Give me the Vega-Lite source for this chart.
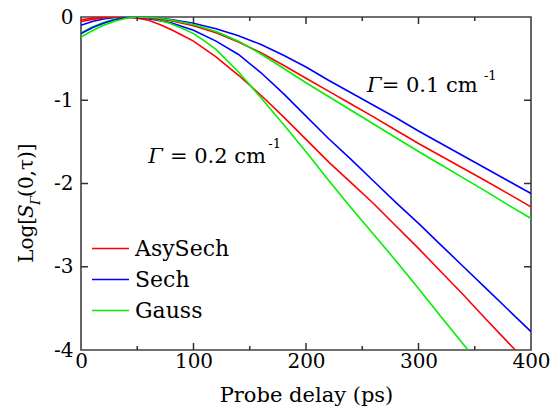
{
  "$schema": "https://vega.github.io/schema/vega-lite/v6.json",
  "width": 450,
  "height": 333,
  "autosize": {"type": "none"},
  "padding": {"left": 81, "top": 17, "right": 20, "bottom": 64},
  "config": {
    "view": {"stroke": "#404040", "strokeWidth": 1.6},
    "font": "DejaVu Serif",
    "text": {"font": "DejaVu Serif", "color": "#000000"},
    "rule": {"color": "#303030", "strokeWidth": 1.5},
    "axis": {"labelFont": "DejaVu Serif", "titleFont": "DejaVu Serif", "grid": false, "labelColor": "#000000", "titleColor": "#000000", "domain": false, "ticks": false, "labelOverlap": false, "labelFlush": false},
    "legend": {"labelFont": "DejaVu Serif"}
  },
  "datasets": {
    "curves": [
      {"delay": 0, "logS": -0.035, "pulse": "AsySech", "gamma": "0.2"},
      {"delay": 10, "logS": -0.015, "pulse": "AsySech", "gamma": "0.2"},
      {"delay": 20, "logS": -0.004, "pulse": "AsySech", "gamma": "0.2"},
      {"delay": 30, "logS": 0, "pulse": "AsySech", "gamma": "0.2"},
      {"delay": 40, "logS": -0.002, "pulse": "AsySech", "gamma": "0.2"},
      {"delay": 50, "logS": -0.015, "pulse": "AsySech", "gamma": "0.2"},
      {"delay": 60, "logS": -0.04, "pulse": "AsySech", "gamma": "0.2"},
      {"delay": 70, "logS": -0.09, "pulse": "AsySech", "gamma": "0.2"},
      {"delay": 80, "logS": -0.15, "pulse": "AsySech", "gamma": "0.2"},
      {"delay": 90, "logS": -0.22, "pulse": "AsySech", "gamma": "0.2"},
      {"delay": 100, "logS": -0.29, "pulse": "AsySech", "gamma": "0.2"},
      {"delay": 120, "logS": -0.48, "pulse": "AsySech", "gamma": "0.2"},
      {"delay": 140, "logS": -0.7, "pulse": "AsySech", "gamma": "0.2"},
      {"delay": 160, "logS": -0.94, "pulse": "AsySech", "gamma": "0.2"},
      {"delay": 180, "logS": -1.2, "pulse": "AsySech", "gamma": "0.2"},
      {"delay": 200, "logS": -1.47, "pulse": "AsySech", "gamma": "0.2"},
      {"delay": 220, "logS": -1.74, "pulse": "AsySech", "gamma": "0.2"},
      {"delay": 240, "logS": -1.99, "pulse": "AsySech", "gamma": "0.2"},
      {"delay": 260, "logS": -2.24, "pulse": "AsySech", "gamma": "0.2"},
      {"delay": 280, "logS": -2.51, "pulse": "AsySech", "gamma": "0.2"},
      {"delay": 300, "logS": -2.78, "pulse": "AsySech", "gamma": "0.2"},
      {"delay": 320, "logS": -3.06, "pulse": "AsySech", "gamma": "0.2"},
      {"delay": 340, "logS": -3.34, "pulse": "AsySech", "gamma": "0.2"},
      {"delay": 360, "logS": -3.63, "pulse": "AsySech", "gamma": "0.2"},
      {"delay": 386, "logS": -4.0, "pulse": "AsySech", "gamma": "0.2"},

      {"delay": 0, "logS": -0.1, "pulse": "Sech", "gamma": "0.2"},
      {"delay": 10, "logS": -0.055, "pulse": "Sech", "gamma": "0.2"},
      {"delay": 20, "logS": -0.025, "pulse": "Sech", "gamma": "0.2"},
      {"delay": 30, "logS": -0.006, "pulse": "Sech", "gamma": "0.2"},
      {"delay": 40, "logS": 0, "pulse": "Sech", "gamma": "0.2"},
      {"delay": 50, "logS": -0.005, "pulse": "Sech", "gamma": "0.2"},
      {"delay": 60, "logS": -0.02, "pulse": "Sech", "gamma": "0.2"},
      {"delay": 80, "logS": -0.07, "pulse": "Sech", "gamma": "0.2"},
      {"delay": 100, "logS": -0.16, "pulse": "Sech", "gamma": "0.2"},
      {"delay": 120, "logS": -0.29, "pulse": "Sech", "gamma": "0.2"},
      {"delay": 140, "logS": -0.45, "pulse": "Sech", "gamma": "0.2"},
      {"delay": 160, "logS": -0.67, "pulse": "Sech", "gamma": "0.2"},
      {"delay": 180, "logS": -0.92, "pulse": "Sech", "gamma": "0.2"},
      {"delay": 200, "logS": -1.19, "pulse": "Sech", "gamma": "0.2"},
      {"delay": 220, "logS": -1.46, "pulse": "Sech", "gamma": "0.2"},
      {"delay": 240, "logS": -1.71, "pulse": "Sech", "gamma": "0.2"},
      {"delay": 260, "logS": -1.97, "pulse": "Sech", "gamma": "0.2"},
      {"delay": 280, "logS": -2.23, "pulse": "Sech", "gamma": "0.2"},
      {"delay": 300, "logS": -2.48, "pulse": "Sech", "gamma": "0.2"},
      {"delay": 320, "logS": -2.74, "pulse": "Sech", "gamma": "0.2"},
      {"delay": 340, "logS": -3.0, "pulse": "Sech", "gamma": "0.2"},
      {"delay": 360, "logS": -3.26, "pulse": "Sech", "gamma": "0.2"},
      {"delay": 380, "logS": -3.52, "pulse": "Sech", "gamma": "0.2"},
      {"delay": 400, "logS": -3.78, "pulse": "Sech", "gamma": "0.2"},

      {"delay": 0, "logS": -0.19, "pulse": "Gauss", "gamma": "0.2"},
      {"delay": 10, "logS": -0.12, "pulse": "Gauss", "gamma": "0.2"},
      {"delay": 20, "logS": -0.065, "pulse": "Gauss", "gamma": "0.2"},
      {"delay": 30, "logS": -0.025, "pulse": "Gauss", "gamma": "0.2"},
      {"delay": 40, "logS": -0.004, "pulse": "Gauss", "gamma": "0.2"},
      {"delay": 50, "logS": 0, "pulse": "Gauss", "gamma": "0.2"},
      {"delay": 60, "logS": -0.01, "pulse": "Gauss", "gamma": "0.2"},
      {"delay": 70, "logS": -0.04, "pulse": "Gauss", "gamma": "0.2"},
      {"delay": 80, "logS": -0.08, "pulse": "Gauss", "gamma": "0.2"},
      {"delay": 90, "logS": -0.135, "pulse": "Gauss", "gamma": "0.2"},
      {"delay": 100, "logS": -0.2, "pulse": "Gauss", "gamma": "0.2"},
      {"delay": 110, "logS": -0.29, "pulse": "Gauss", "gamma": "0.2"},
      {"delay": 120, "logS": -0.39, "pulse": "Gauss", "gamma": "0.2"},
      {"delay": 140, "logS": -0.66, "pulse": "Gauss", "gamma": "0.2"},
      {"delay": 160, "logS": -0.97, "pulse": "Gauss", "gamma": "0.2"},
      {"delay": 180, "logS": -1.29, "pulse": "Gauss", "gamma": "0.2"},
      {"delay": 200, "logS": -1.62, "pulse": "Gauss", "gamma": "0.2"},
      {"delay": 220, "logS": -1.96, "pulse": "Gauss", "gamma": "0.2"},
      {"delay": 240, "logS": -2.29, "pulse": "Gauss", "gamma": "0.2"},
      {"delay": 260, "logS": -2.61, "pulse": "Gauss", "gamma": "0.2"},
      {"delay": 280, "logS": -2.93, "pulse": "Gauss", "gamma": "0.2"},
      {"delay": 300, "logS": -3.26, "pulse": "Gauss", "gamma": "0.2"},
      {"delay": 320, "logS": -3.6, "pulse": "Gauss", "gamma": "0.2"},
      {"delay": 344, "logS": -4.0, "pulse": "Gauss", "gamma": "0.2"},

      {"delay": 0, "logS": -0.055, "pulse": "AsySech", "gamma": "0.1"},
      {"delay": 10, "logS": -0.03, "pulse": "AsySech", "gamma": "0.1"},
      {"delay": 20, "logS": -0.012, "pulse": "AsySech", "gamma": "0.1"},
      {"delay": 30, "logS": -0.003, "pulse": "AsySech", "gamma": "0.1"},
      {"delay": 40, "logS": 0, "pulse": "AsySech", "gamma": "0.1"},
      {"delay": 50, "logS": -0.003, "pulse": "AsySech", "gamma": "0.1"},
      {"delay": 60, "logS": -0.012, "pulse": "AsySech", "gamma": "0.1"},
      {"delay": 80, "logS": -0.045, "pulse": "AsySech", "gamma": "0.1"},
      {"delay": 100, "logS": -0.105, "pulse": "AsySech", "gamma": "0.1"},
      {"delay": 120, "logS": -0.19, "pulse": "AsySech", "gamma": "0.1"},
      {"delay": 140, "logS": -0.3, "pulse": "AsySech", "gamma": "0.1"},
      {"delay": 160, "logS": -0.43, "pulse": "AsySech", "gamma": "0.1"},
      {"delay": 180, "logS": -0.58, "pulse": "AsySech", "gamma": "0.1"},
      {"delay": 200, "logS": -0.735, "pulse": "AsySech", "gamma": "0.1"},
      {"delay": 220, "logS": -0.89, "pulse": "AsySech", "gamma": "0.1"},
      {"delay": 240, "logS": -1.045, "pulse": "AsySech", "gamma": "0.1"},
      {"delay": 260, "logS": -1.2, "pulse": "AsySech", "gamma": "0.1"},
      {"delay": 280, "logS": -1.36, "pulse": "AsySech", "gamma": "0.1"},
      {"delay": 300, "logS": -1.52, "pulse": "AsySech", "gamma": "0.1"},
      {"delay": 320, "logS": -1.67, "pulse": "AsySech", "gamma": "0.1"},
      {"delay": 340, "logS": -1.82, "pulse": "AsySech", "gamma": "0.1"},
      {"delay": 360, "logS": -1.97, "pulse": "AsySech", "gamma": "0.1"},
      {"delay": 380, "logS": -2.125, "pulse": "AsySech", "gamma": "0.1"},
      {"delay": 400, "logS": -2.28, "pulse": "AsySech", "gamma": "0.1"},

      {"delay": 0, "logS": -0.2, "pulse": "Sech", "gamma": "0.1"},
      {"delay": 10, "logS": -0.13, "pulse": "Sech", "gamma": "0.1"},
      {"delay": 20, "logS": -0.075, "pulse": "Sech", "gamma": "0.1"},
      {"delay": 30, "logS": -0.033, "pulse": "Sech", "gamma": "0.1"},
      {"delay": 40, "logS": -0.008, "pulse": "Sech", "gamma": "0.1"},
      {"delay": 50, "logS": 0, "pulse": "Sech", "gamma": "0.1"},
      {"delay": 60, "logS": -0.003, "pulse": "Sech", "gamma": "0.1"},
      {"delay": 80, "logS": -0.03, "pulse": "Sech", "gamma": "0.1"},
      {"delay": 100, "logS": -0.075, "pulse": "Sech", "gamma": "0.1"},
      {"delay": 120, "logS": -0.14, "pulse": "Sech", "gamma": "0.1"},
      {"delay": 140, "logS": -0.225, "pulse": "Sech", "gamma": "0.1"},
      {"delay": 160, "logS": -0.33, "pulse": "Sech", "gamma": "0.1"},
      {"delay": 180, "logS": -0.46, "pulse": "Sech", "gamma": "0.1"},
      {"delay": 200, "logS": -0.6, "pulse": "Sech", "gamma": "0.1"},
      {"delay": 220, "logS": -0.76, "pulse": "Sech", "gamma": "0.1"},
      {"delay": 240, "logS": -0.91, "pulse": "Sech", "gamma": "0.1"},
      {"delay": 260, "logS": -1.06, "pulse": "Sech", "gamma": "0.1"},
      {"delay": 280, "logS": -1.21, "pulse": "Sech", "gamma": "0.1"},
      {"delay": 300, "logS": -1.37, "pulse": "Sech", "gamma": "0.1"},
      {"delay": 320, "logS": -1.52, "pulse": "Sech", "gamma": "0.1"},
      {"delay": 340, "logS": -1.67, "pulse": "Sech", "gamma": "0.1"},
      {"delay": 360, "logS": -1.82, "pulse": "Sech", "gamma": "0.1"},
      {"delay": 380, "logS": -1.97, "pulse": "Sech", "gamma": "0.1"},
      {"delay": 400, "logS": -2.12, "pulse": "Sech", "gamma": "0.1"},

      {"delay": 0, "logS": -0.24, "pulse": "Gauss", "gamma": "0.1"},
      {"delay": 10, "logS": -0.165, "pulse": "Gauss", "gamma": "0.1"},
      {"delay": 20, "logS": -0.1, "pulse": "Gauss", "gamma": "0.1"},
      {"delay": 30, "logS": -0.05, "pulse": "Gauss", "gamma": "0.1"},
      {"delay": 40, "logS": -0.015, "pulse": "Gauss", "gamma": "0.1"},
      {"delay": 50, "logS": 0, "pulse": "Gauss", "gamma": "0.1"},
      {"delay": 60, "logS": -0.003, "pulse": "Gauss", "gamma": "0.1"},
      {"delay": 70, "logS": -0.015, "pulse": "Gauss", "gamma": "0.1"},
      {"delay": 80, "logS": -0.035, "pulse": "Gauss", "gamma": "0.1"},
      {"delay": 100, "logS": -0.09, "pulse": "Gauss", "gamma": "0.1"},
      {"delay": 120, "logS": -0.175, "pulse": "Gauss", "gamma": "0.1"},
      {"delay": 140, "logS": -0.29, "pulse": "Gauss", "gamma": "0.1"},
      {"delay": 160, "logS": -0.445, "pulse": "Gauss", "gamma": "0.1"},
      {"delay": 180, "logS": -0.615, "pulse": "Gauss", "gamma": "0.1"},
      {"delay": 200, "logS": -0.79, "pulse": "Gauss", "gamma": "0.1"},
      {"delay": 220, "logS": -0.955, "pulse": "Gauss", "gamma": "0.1"},
      {"delay": 240, "logS": -1.12, "pulse": "Gauss", "gamma": "0.1"},
      {"delay": 260, "logS": -1.285, "pulse": "Gauss", "gamma": "0.1"},
      {"delay": 280, "logS": -1.45, "pulse": "Gauss", "gamma": "0.1"},
      {"delay": 300, "logS": -1.615, "pulse": "Gauss", "gamma": "0.1"},
      {"delay": 320, "logS": -1.775, "pulse": "Gauss", "gamma": "0.1"},
      {"delay": 340, "logS": -1.935, "pulse": "Gauss", "gamma": "0.1"},
      {"delay": 360, "logS": -2.095, "pulse": "Gauss", "gamma": "0.1"},
      {"delay": 380, "logS": -2.26, "pulse": "Gauss", "gamma": "0.1"},
      {"delay": 400, "logS": -2.42, "pulse": "Gauss", "gamma": "0.1"}
    ],
    "xMajor": [{"delay": 100}, {"delay": 200}, {"delay": 300}],
    "xMinor": [{"delay": 50}, {"delay": 150}, {"delay": 250}, {"delay": 350}],
    "yMajor": [{"logS": -3}, {"logS": -2}, {"logS": -1}],
    "gammaSymbol": [
      {"delay": 254.2, "logS": -0.896, "txt": "Γ"},
      {"delay": 59.8, "logS": -1.75, "txt": "Γ"}
    ],
    "gammaRest": [
      {"delay": 267.3, "logS": -0.896, "txt": "= 0.1 cm"},
      {"delay": 79.1, "logS": -1.75, "txt": "= 0.2 cm"}
    ],
    "gammaExp": [
      {"delay": 358.2, "logS": -0.756, "txt": "-1"},
      {"delay": 166.5, "logS": -1.569, "txt": "-1"}
    ],
    "ytLog": [{"delay": -42.7, "logS": -2.953, "txt": "Log["}],
    "ytS": [{"delay": -42.7, "logS": -2.413, "txt": "S"}],
    "ytSub": [{"delay": -36.4, "logS": -2.257, "txt": "Γ"}],
    "ytArgs": [{"delay": -42.7, "logS": -2.161, "txt": "(0,τ)]"}]
  },
  "layer": [
    {
      "data": {"name": "curves"},
      "mark": {"type": "line", "strokeWidth": 1.6, "clip": true},
      "encoding": {
        "x": {
          "field": "delay", "type": "quantitative",
          "scale": {"domain": [0, 400], "nice": false, "zero": false},
          "axis": {
            "orient": "bottom",
            "values": [0, 100, 200, 300, 400],
            "labelPadding": 1,
            "labelFont": "DejaVu Serif",
            "labelFontSize": 20,
            "title": "Probe delay (ps)",
            "titleFont": "DejaVu Serif",
            "titleFontSize": 21,
            "titleFontWeight": "normal",
            "titlePadding": 13
          }
        },
        "y": {
          "field": "logS", "type": "quantitative",
          "scale": {"domain": [-4, 0], "nice": false, "zero": false},
          "axis": {
            "orient": "left",
            "values": [-4, -3, -2, -1, 0],
            "labelExpr": "datum.value === 0 ? '0' : '-' + abs(datum.value)",
            "labelPadding": 8,
            "labelFont": "DejaVu Serif",
            "labelFontSize": 20,
            "title": ""
          }
        },
        "color": {
          "field": "pulse", "type": "nominal",
          "scale": {"domain": ["AsySech", "Sech", "Gauss"], "range": ["#ff0000", "#0000ff", "#00f000"]},
          "legend": {
            "orient": "none", "legendX": 10, "legendY": 212,
            "title": null, "symbolType": "stroke", "symbolSize": 1369,
            "symbolStrokeWidth": 1.6, "labelFont": "DejaVu Serif", "labelFontSize": 22, "labelOffset": 5,
            "rowPadding": -1, "padding": 0, "labelColor": "#000000"
          }
        },
        "detail": {"field": "gamma", "type": "nominal"}
      }
    },
    {
      "data": {"name": "xMajor"},
      "mark": {"type": "rule"},
      "encoding": {
        "x": {"field": "delay", "type": "quantitative"},
        "y": {"datum": -4, "type": "quantitative"},
        "y2": {"datum": -3.916}
      }
    },
    {
      "data": {"name": "xMajor"},
      "mark": {"type": "rule"},
      "encoding": {
        "x": {"field": "delay", "type": "quantitative"},
        "y": {"datum": 0, "type": "quantitative"},
        "y2": {"datum": -0.084}
      }
    },
    {
      "data": {"name": "xMinor"},
      "mark": {"type": "rule"},
      "encoding": {
        "x": {"field": "delay", "type": "quantitative"},
        "y": {"datum": -4, "type": "quantitative"},
        "y2": {"datum": -3.952}
      }
    },
    {
      "data": {"name": "xMinor"},
      "mark": {"type": "rule"},
      "encoding": {
        "x": {"field": "delay", "type": "quantitative"},
        "y": {"datum": 0, "type": "quantitative"},
        "y2": {"datum": -0.048}
      }
    },
    {
      "data": {"name": "yMajor"},
      "mark": {"type": "rule"},
      "encoding": {
        "y": {"field": "logS", "type": "quantitative"},
        "x": {"datum": 0, "type": "quantitative"},
        "x2": {"datum": 6.2}
      }
    },
    {
      "data": {"name": "yMajor"},
      "mark": {"type": "rule"},
      "encoding": {
        "y": {"field": "logS", "type": "quantitative"},
        "x": {"datum": 400, "type": "quantitative"},
        "x2": {"datum": 393.8}
      }
    },
    {
      "data": {"name": "gammaSymbol"},
      "mark": {"type": "text", "font": "DejaVu Serif", "fontSize": 21, "fontStyle": "italic", "align": "left", "baseline": "alphabetic"},
      "encoding": {
        "x": {"field": "delay", "type": "quantitative"},
        "y": {"field": "logS", "type": "quantitative"},
        "text": {"field": "txt"}
      }
    },
    {
      "data": {"name": "gammaRest"},
      "mark": {"type": "text", "font": "DejaVu Serif", "fontSize": 21, "align": "left", "baseline": "alphabetic"},
      "encoding": {
        "x": {"field": "delay", "type": "quantitative"},
        "y": {"field": "logS", "type": "quantitative"},
        "text": {"field": "txt"}
      }
    },
    {
      "data": {"name": "gammaExp"},
      "mark": {"type": "text", "font": "DejaVu Serif", "fontSize": 13, "align": "left", "baseline": "alphabetic"},
      "encoding": {
        "x": {"field": "delay", "type": "quantitative"},
        "y": {"field": "logS", "type": "quantitative"},
        "text": {"field": "txt"}
      }
    },
    {
      "data": {"name": "ytLog"},
      "mark": {"type": "text", "font": "DejaVu Serif", "fontSize": 20, "angle": 270, "align": "left", "baseline": "alphabetic"},
      "encoding": {
        "x": {"field": "delay", "type": "quantitative"},
        "y": {"field": "logS", "type": "quantitative"},
        "text": {"field": "txt"}
      }
    },
    {
      "data": {"name": "ytS"},
      "mark": {"type": "text", "font": "DejaVu Serif", "fontSize": 20, "fontStyle": "italic", "angle": 270, "align": "left", "baseline": "alphabetic"},
      "encoding": {
        "x": {"field": "delay", "type": "quantitative"},
        "y": {"field": "logS", "type": "quantitative"},
        "text": {"field": "txt"}
      }
    },
    {
      "data": {"name": "ytSub"},
      "mark": {"type": "text", "font": "DejaVu Serif", "fontSize": 13, "fontStyle": "italic", "angle": 270, "align": "left", "baseline": "alphabetic"},
      "encoding": {
        "x": {"field": "delay", "type": "quantitative"},
        "y": {"field": "logS", "type": "quantitative"},
        "text": {"field": "txt"}
      }
    },
    {
      "data": {"name": "ytArgs"},
      "mark": {"type": "text", "font": "DejaVu Serif", "fontSize": 20, "angle": 270, "align": "left", "baseline": "alphabetic"},
      "encoding": {
        "x": {"field": "delay", "type": "quantitative"},
        "y": {"field": "logS", "type": "quantitative"},
        "text": {"field": "txt"}
      }
    }
  ]
}
